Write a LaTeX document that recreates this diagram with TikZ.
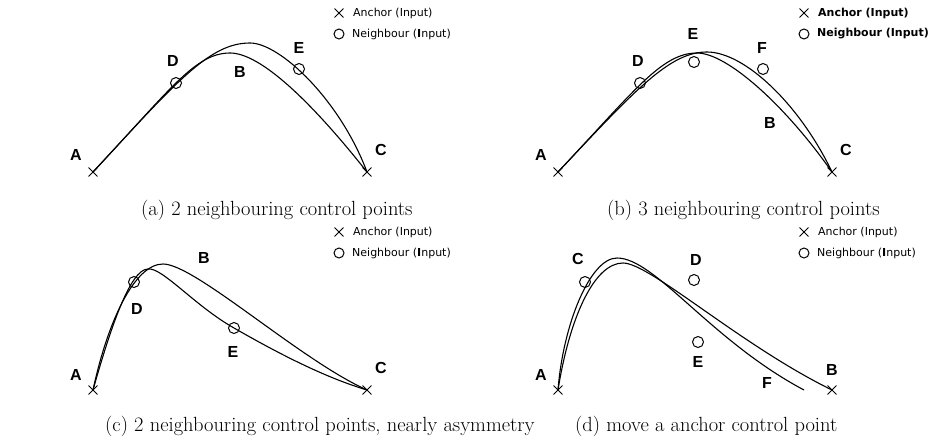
\documentclass[tikz,border=0pt]{standalone}
\usepackage{fontspec}
\usetikzlibrary{shapes.misc}
\newfontfamily\lblfont{Liberation Sans}
\newfontfamily\legfont{DejaVu Sans}
\begin{document}
\begin{tikzpicture}[x=1pt,y=-1pt,
  curve/.style={draw=black,line width=1.1pt},
  anchorpt/.style={cross out,draw=black,line width=0.9pt,minimum size=8pt,inner sep=0pt},
  neighpt/.style={circle,draw=black,line width=1pt,minimum size=11pt,inner sep=0pt},
  legcross/.style={cross out,draw=black,line width=0.9pt,minimum size=8pt,inner sep=0pt},
  legcirc/.style={circle,draw=black,line width=1pt,minimum size=10pt,inner sep=0pt},
  lbl/.style={font=\lblfont\bfseries\fontsize{16}{18}\selectfont,inner sep=0pt},
  legtxt/.style={font=\legfont\fontsize{11}{13}\selectfont,anchor=west,inner sep=0pt},
  legtxtb/.style={font=\legfont\bfseries\fontsize{11}{13}\selectfont,anchor=west,inner sep=0pt},
  captxt/.style={font=\fontsize{20.5}{24}\selectfont,anchor=base west,inner sep=0pt}]
\useasboundingbox (0,0) rectangle (931,439);

% ---------- (a) ----------
\begin{scope}
\node[anchorpt] (aA) at (93,172) {};
\node[anchorpt] (aC) at (367,172) {};
\node[neighpt] (aD) at (176,83) {};
\node[neighpt] (aE) at (299,69) {};
\draw[curve] (aA.center) .. controls (170,90) and (195,53) .. (230,53)
  .. controls (260,53) and (310,100) .. (aC.center);
\draw[curve] (aA.center) .. controls (178,80) and (210,43) .. (250,43)
  .. controls (280,43) and (340,100) .. (aC.center);
\node[lbl] (aLA) at (76,155) {A};
\node[lbl] (aLB) at (240,72) {B};
\node[lbl] (aLC) at (381,150) {C};
\node[lbl] (aLD) at (173,61) {D};
\node[lbl] (aLE) at (299,48) {E};
\node[legcross] (aK1) at (339,13) {};
\node[legtxt] (aT1) at (353,13) {Anchor (Input)};
\node[legcirc] (aK2) at (339,34) {};
\node[legtxt] (aT2) at (352,34) {Neighbour (\textbf{I}nput)};
\node[captxt] (capa) at (141,215) {(a) 2 neighbouring control points};
\end{scope}

% ---------- (b) ----------
\begin{scope}[shift={(465,0)}]
\node[anchorpt] (bA) at (93,172) {};
\node[anchorpt] (bC) at (367,172) {};
\node[neighpt] (bD) at (175,83) {};
\node[neighpt] (bE) at (229,62) {};
\node[neighpt] (bF) at (298,69) {};
\draw[curve] (bA.center) .. controls (170,90) and (197,53) .. (232,53)
  .. controls (262,53) and (320,105) .. (bC.center);
\draw[curve] (bA.center) .. controls (172,88) and (205,52) .. (242,52)
  .. controls (280,52) and (335,105) .. (bC.center);
\node[lbl] (bLA) at (76,155) {A};
\node[lbl] (bLB) at (305,123) {B};
\node[lbl] (bLC) at (381,150) {C};
\node[lbl] (bLD) at (173,61) {D};
\node[lbl] (bLE) at (228,34) {E};
\node[lbl] (bLF) at (297,48) {F};
\node[legcross] (bK1) at (339,13) {};
\node[legtxtb] (bT1) at (353,13) {Anchor (Input)};
\node[legcirc] (bK2) at (339,34) {};
\node[legtxtb] (bT2) at (352,34) {Neighbour (Input)};
\node[captxt] (capb) at (142,215) {(b) 3 neighbouring control points};
\end{scope}

% ---------- (c) ----------
\begin{scope}[shift={(0,220)}]
\node[anchorpt] (cA) at (93,170) {};
\node[anchorpt] (cC) at (367,170) {};
\node[neighpt] (cD) at (134,62) {};
\node[neighpt] (cE) at (234,108) {};
\draw[curve] (cA.center) .. controls (110,110) and (130,49) .. (148,49)
  .. controls (162,47) and (195,86) .. (cE.center)
  .. controls (269,128) and (320,156) .. (cC.center);
\draw[curve] (cA.center) .. controls (108,100) and (135,44) .. (163,44)
  .. controls (195,44) and (300,140) .. (cC.center);
\node[lbl] (cLA) at (76,155) {A};
\node[lbl] (cLB) at (204,38) {B};
\node[lbl] (cLC) at (381,148) {C};
\node[lbl] (cLD) at (137,89) {D};
\node[lbl] (cLE) at (233,132) {E};
\node[legcross] (cK1) at (339,12) {};
\node[legtxt] (cT1) at (353,12) {Anchor (Input)};
\node[legcirc] (cK2) at (339,33) {};
\node[legtxt] (cT2) at (352,33) {Neighbour (\textbf{I}nput)};
\node[captxt] (capc) at (105,211) {(c) 2 neighbouring control points, nearly asymmetry};
\end{scope}

% ---------- (d) ----------
\begin{scope}[shift={(465,220)}]
\node[anchorpt] (dA) at (93,170) {};
\node[anchorpt] (dB) at (367,170) {};
\node[neighpt] (dC) at (120,62) {};
\node[neighpt] (dD) at (229,60) {};
\node[neighpt] (dE) at (233,122) {};
\coordinate (dF) at (339,170);
\draw[curve] (dA.center) .. controls (98,105) and (125,38) .. (152,38)
  .. controls (190,38) and (245,120) .. (dF);
\draw[curve] (dA.center) .. controls (105,95) and (130,43) .. (158,43)
  .. controls (185,43) and (275,125) .. (dB.center);
\node[lbl] (dLA) at (76,155) {A};
\node[lbl] (dLB) at (367,150) {B};
\node[lbl] (dLC) at (113,39) {C};
\node[lbl] (dLD) at (231,40) {D};
\node[lbl] (dLE) at (233,142) {E};
\node[lbl] (dLF) at (302,163) {F};
\node[legcross] (dK1) at (339,12) {};
\node[legtxt] (dT1) at (353,12) {Anchor (Input)};
\node[legcirc] (dK2) at (339,33) {};
\node[legtxt] (dT2) at (352,33) {Neighbour (\textbf{I}nput)};
\node[captxt] (capd) at (110,211) {(d) move a anchor control point};
\end{scope}
\end{tikzpicture}
\end{document}
